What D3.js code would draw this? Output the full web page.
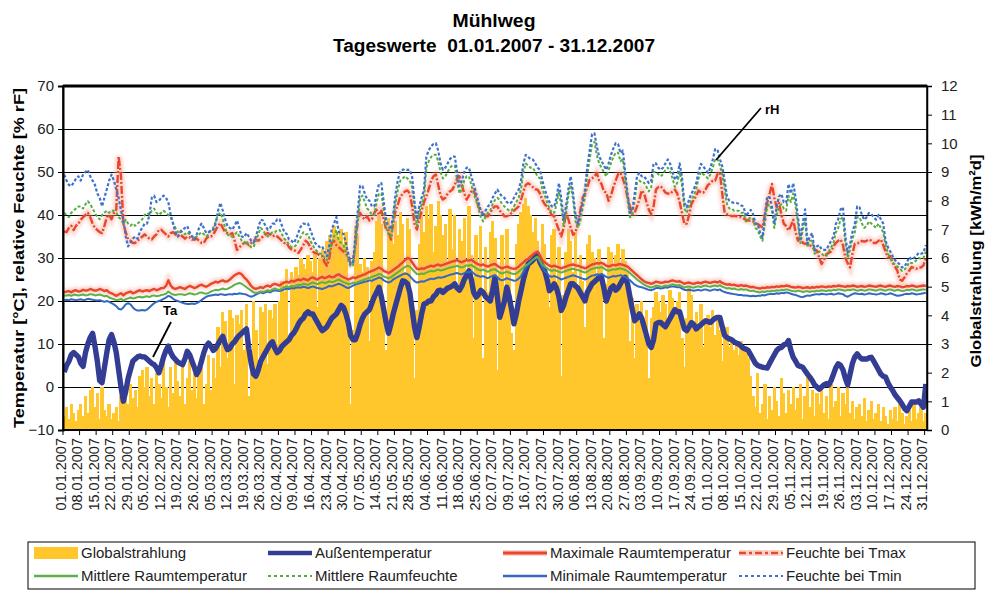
<!DOCTYPE html>
<html><head><meta charset="utf-8">
<script src="https://cdn.jsdelivr.net/npm/d3@7/dist/d3.min.js"></script>
<style>
html,body{margin:0;padding:0;background:#fff;}
svg{display:block;font-family:"Liberation Sans",Arial,sans-serif;}
</style></head>
<body><svg id="chart" width="990" height="591"></svg>
<script>
// ---------------- DATA ----------------
const tickLabels = ["01.01.2007","08.01.2007","15.01.2007","22.01.2007","29.01.2007","05.02.2007","12.02.2007","19.02.2007","26.02.2007","05.03.2007","12.03.2007","19.03.2007","26.03.2007","02.04.2007","09.04.2007","16.04.2007","23.04.2007","30.04.2007","07.05.2007","14.05.2007","21.05.2007","28.05.2007","04.06.2007","11.06.2007","18.06.2007","25.06.2007","02.07.2007","09.07.2007","16.07.2007","23.07.2007","30.07.2007","06.08.2007","13.08.2007","20.08.2007","27.08.2007","03.09.2007","10.09.2007","17.09.2007","24.09.2007","01.10.2007","08.10.2007","15.10.2007","22.10.2007","29.10.2007","05.11.2007","12.11.2007","19.11.2007","26.11.2007","03.12.2007","10.12.2007","17.12.2007","24.12.2007","31.12.2007"];
const leftTicks = [-10,0,10,20,30,40,50,60,70];
const rightTicks = [0,1,2,3,4,5,6,7,8,9,10,11,12];

// Globalstrahlung [kWh/m²d], daily
const globalstrahlung = [
0.5,0.8,0.4,0.9,0.6,0.3,0.7,
0.9,0.5,1.2,0.6,1.4,1.5,0.8,
1.3,0.4,1.5,0.7,0.5,0.9,0.4,
0.6,0.8,0.3,1.2,1.5,1.3,0.9,
1.6,1.1,1.4,0.8,1.9,2.1,1.5,
2.2,1.2,1.8,0.9,2.0,1.6,1.1,
2.4,1.5,0.8,2.2,1.3,2.5,1.7,
1.2,2.3,0.9,1.8,2.4,1.4,2.0,
1.1,1.9,2.2,0.9,1.6,2.6,1.4,
2.5,1.8,3.6,2.2,4.1,3.8,2.5,
4.2,3.9,1.6,4.0,3.7,4.2,2.8,
4.4,1.2,2.5,4.5,3.5,1.8,4.3,
4.1,4.4,2.3,4.2,3.9,4.4,3.0,
4.5,5.2,4.8,5.6,3.2,5.5,5.3,
5.7,5.4,6.0,5.8,5.6,6.1,5.9,
5.5,6.2,4.3,6.0,6.3,5.9,6.6,
6.8,6.5,7.1,6.9,6.7,7.0,6.4,
6.9,5.2,0.9,3.5,7.1,6.8,5.8,
5.5,6.0,5.7,3.1,5.9,6.2,7.3,
7.5,7.2,4.5,2.8,7.4,7.1,6.5,
7.3,6.8,7.6,7.2,5.5,7.4,7.0,
3.8,1.8,4.2,6.5,7.6,6.9,7.8,
7.4,7.9,6.2,7.1,8.0,7.5,6.8,
7.2,5.9,7.7,6.3,7.5,4.9,7.0,
6.6,7.4,5.3,7.8,6.1,3.2,6.8,
5.7,7.1,2.5,6.4,4.8,6.9,7.3,
6.7,2.1,5.5,6.8,4.2,7.0,5.6,
3.4,2.8,6.5,7.2,7.6,7.9,8.1,
7.8,7.5,6.9,7.4,6.6,5.8,7.2,
6.5,5.1,4.3,6.8,7.0,5.2,6.4,
1.9,4.7,6.2,7.0,6.6,5.5,6.9,
4.8,6.1,5.2,3.6,6.5,6.8,6.2,
6.0,5.4,6.3,5.8,3.2,5.1,6.4,
6.2,5.6,6.1,6.5,5.8,6.3,5.9,
5.5,3.1,4.6,2.5,4.4,3.8,4.5,
3.3,4.2,1.8,3.9,4.3,4.8,4.5,
4.1,4.7,4.4,3.6,4.9,4.6,4.2,
4.5,4.8,3.2,2.2,3.9,5.0,4.7,
3.8,4.1,3.5,4.4,2.9,3.7,4.0,
3.6,4.2,3.3,3.9,3.5,2.4,3.2,
3.6,2.9,3.1,2.8,3.0,2.6,3.1,
2.8,2.9,2.5,1.9,1.2,0.8,2.0,
0.6,0.9,1.6,0.4,1.2,0.7,1.5,
1.0,0.5,1.8,1.3,0.6,1.4,0.9,
1.5,0.7,1.1,1.6,0.4,1.2,2.0,
0.8,1.4,0.5,1.3,0.9,1.5,0.6,
1.2,0.4,1.6,0.8,1.0,1.5,0.5,
1.3,0.9,1.7,0.6,1.0,0.4,0.8,
0.9,0.5,1.1,0.3,0.7,1.0,0.4,
0.6,0.9,0.3,0.8,0.5,0.2,0.7,
0.4,0.8,0.3,0.9,0.6,0.2,0.5,
0.7,0.3,0.9,0.4,0.6,0.8,0.3,
0.6];

// Außentemperatur [°C]
const aussentemperatur = [
3.5,5,6,7.5,8,7.5,7,
5.5,4.8,8,10,11.5,12.5,9.5,
6,1.5,1,4.5,8,11,12.2,
10.5,8,4,0,-3.3,-1,2,
4,6,6.5,7,7.2,7,7,
6.5,6,5.5,5.2,4.5,3.3,5,
7,8.5,9.5,8,7,6.4,5.8,
5.5,5.2,6.5,8.3,7.5,6,4.5,
2.9,4,6,8,9.5,10.2,9.5,
8.5,9,10,11,11.8,10,8.7,
9,10,10.5,11.4,12,12.5,13,
13.5,9,5.5,3,2.5,4,6,
7,8,9,10,10.5,9,8,
8.5,9.5,10,10.5,11,12,12.6,
13.5,14.7,15.5,16,17,17.5,17,
17,16,15,14,13.1,13.5,14,
15,16,16.5,17,18,19,18.5,
17,15,12,11,11,12.5,14.5,
16,17,17.5,18,19.5,21,22,
23.2,21,18,15,12.5,14.5,17,
19,21,23,24.7,24.5,24,22,
18,14,11.5,14,17,19.3,19.5,
20,20,21,21.5,22.4,22.5,22,
22.5,23,23.2,23.5,24,23,22.5,
23.5,25,26,27,25,22,20.9,
21.5,22.5,22,21,20.5,20,22.5,
25.5,21,16.2,18,20,23.2,21,
18,14.7,17,20,22.4,25,27,
28.6,29,29.5,30.2,30.9,29,28,
27,25,22.4,23,24,23,21,
17.8,19,21,22.5,24,24,23.5,
23,22,21,20,22,23,24,
24.5,25,25.5,25.5,23,20,21.5,
23,23.5,22.5,23,24,25,25.5,
24,21,18,15.4,16,17,16,
14,12,10,9.2,11,14.7,15,
15,14.5,14,15,16,17,18,
17.5,17.5,15.5,13.5,13.1,14,15,
14.5,13.5,14,14.5,15,15.4,15.2,
15,15.5,16,16.2,16.2,14,12,
11.5,11.2,11,10.5,10.2,10,9.5,
9,8.8,8.5,7.5,6.5,5.5,5,
4.8,4.6,4.5,4.4,5.5,6.5,7.5,
8.5,9,9.2,9.8,10,10.8,8.5,
6.9,6,5,4.8,4.6,3.8,3,
2.3,1.5,0.5,0,-0.5,0,0.5,
0.8,0.5,1.5,3,4.5,5.4,5,
4,2,0.5,3,5.5,7,7.7,
7,6.5,6.5,6.5,6.8,6.9,6,
5,4,3,2.5,2.3,1,0,
-0.8,-1.8,-2.5,-3.2,-4,-5,-5.5,
-4.5,-3.5,-3.5,-3.5,-3.2,-4,-4.7,
0.7];

// Maximale Raumtemperatur [°C]
const maxRaumtemp = [
22,22.2,22.3,22,22.4,22.5,22.2,
22.3,22.6,22.4,22.5,22.8,22.6,22.4,
22.5,22.8,22.6,22.3,22.5,22,21.8,
21.5,21.2,21.5,21.8,21.3,21.8,22,
22.2,21.8,22,22.3,22.5,22.2,22.4,
22.5,22.3,22.6,22.8,22.5,22.7,23,
23,23.5,24.8,23.6,23,22.8,23,
23.2,23,22.8,23.2,23.5,23.3,23,
23.2,23.6,23.8,23.5,23.3,23.6,24,
24.2,24.5,24.3,24.6,24.8,24.5,24.6,
25,25.5,26,26.3,26.5,26.2,25.5,
25,24.3,23.5,23,22.8,23,23.2,
23,23.4,23.6,23.3,23.8,24,23.8,
23.6,24,24.3,24.5,24.3,24.7,24.5,
24.8,25,24.8,25.2,25,24.8,25.3,
25.5,25.2,25,25.4,25.6,25.3,25.5,
25.8,25.5,25.6,26,26.2,25.8,25.5,
25.3,25,25.2,25.5,25.3,25.6,25.8,
26,26.2,26.5,26.8,27,27.2,27.5,
27.8,27.5,27,26.8,26.5,26.8,27.2,
27.6,28,28.5,29,29.5,30,29.8,
29,28.2,27.5,27.4,27.6,27.5,27.8,
28,28.2,28,28.3,28.5,28.2,28.4,
28.6,28.8,29,29.2,29.3,29.5,29.2,
29,29.3,29.5,29.4,29.6,29.2,28.8,
28.5,28.3,28.5,28.2,28,28.3,28.5,
28.6,28.2,27.8,27.6,27.8,28,27.8,
27.6,27.5,27.6,28,28.5,29,29.5,
29.8,30.3,30.8,31.2,31.5,30.5,29.5,
29,28.6,28.2,28,28.2,28,27.8,
27.6,27.8,28,28.2,28.4,28.5,28.3,
28.2,28,27.8,27.6,27.8,28.2,28.5,
28.6,28.8,28.7,28.9,28.6,28.2,28,
28.2,28.4,28.3,28.5,28.6,28.4,28.2,
28,27.5,27,26.5,26,25.5,25,
24.6,24.3,24.2,24,24.2,24.5,24.4,
24.2,24.3,24.5,24.4,24.6,24.8,24.6,
24.5,24.6,24.3,24,24.2,24.3,24.1,
24,24.2,24.3,24.1,24.4,24.5,24.3,
24.2,24.4,24.5,24.3,24.6,24.2,24,
23.8,23.9,23.7,23.8,23.6,23.5,23.7,
23.5,23.6,23.4,23.2,23.3,23.1,23,
22.9,23.1,23,23.2,23.1,23.3,23.2,
23.4,23.3,23.5,23.4,23.6,23.5,23.3,
23.2,23.1,23.3,23.2,23,23.1,23.2,
23,23.2,23.1,23.3,23.2,23.4,23.3,
23.2,23.4,23.3,23.5,23.4,23.6,23.5,
23.4,23.3,23.5,23.4,23.6,23.5,23.3,
23.4,23.5,23.3,23.4,23.6,23.5,23.4,
23.3,23.5,23.6,23.4,23.3,23.5,23.6,
23.4,23.3,23.5,23.4,23.2,23.3,23.5,
23.4,23.6,23.5,23.3,23.4,23.5,23.6,
23.5];

// Mittlere Raumtemperatur [°C]
const mittlereRaumtemp = [
21.2,21.3,21.4,21.2,21.5,21.4,21.3,
21.4,21.5,21.3,21.4,21.6,21.5,21.3,
21.4,21.5,21.3,21.1,21.2,20.8,20.6,
20.4,20.2,20.3,20.5,20.1,20.4,20.6,
20.8,20.6,20.7,20.9,21,20.8,21,
21.1,20.9,21.2,21.3,21.1,21.2,21.4,
21.5,21.7,22.2,21.8,21.5,21.4,21.5,
21.6,21.5,21.4,21.6,21.8,21.7,21.5,
21.6,21.9,22,21.8,21.7,21.9,22.2,
22.4,22.6,22.5,22.7,22.9,22.7,22.8,
23.1,23.4,23.8,24,24.2,24,23.6,
23.2,22.8,22.4,22,21.9,22,22.2,
22.1,22.3,22.5,22.3,22.7,22.9,22.7,
22.6,22.9,23.2,23.4,23.2,23.5,23.4,
23.6,23.8,23.7,24,23.9,23.7,24.1,
24.3,24.1,23.9,24.2,24.4,24.2,24.3,
24.6,24.4,24.5,24.8,25,24.7,24.4,
24.2,23.9,24,24.3,24.1,24.4,24.6,
24.8,25,25.2,25.4,25.6,25.8,26,
26.3,26.1,25.7,25.5,25.3,25.5,25.9,
26.3,26.7,27.1,27.5,27.9,28.2,28,
27.4,26.8,26.3,26.2,26.4,26.3,26.6,
26.8,27,26.9,27.1,27.3,27.1,27.2,
27.4,27.6,27.8,27.9,28,28.2,27.9,
27.8,28,28.3,28.2,28.4,28,27.6,
27.3,27.1,27.3,27,26.8,27.1,27.3,
27.4,27,26.6,26.4,26.6,26.8,26.6,
26.4,26.3,26.4,26.8,27.3,27.8,28.3,
28.6,29.1,29.6,30,30.3,29.4,28.5,
28,27.6,27.2,27,27.2,27,26.8,
26.6,26.8,27,27.2,27.4,27.5,27.3,
27.2,27,26.8,26.6,26.8,27.2,27.5,
27.6,27.8,27.7,27.9,27.6,27.2,27,
27.2,27.4,27.3,27.5,27.6,27.4,27.2,
27,26.5,26,25.5,25,24.6,24.2,
23.8,23.5,23.3,23.1,23.3,23.6,23.5,
23.3,23.4,23.6,23.5,23.7,23.9,23.7,
23.6,23.7,23.4,23.1,23.3,23.4,23.2,
23.1,23.3,23.4,23.2,23.5,23.6,23.4,
23.3,23.5,23.6,23.4,23.7,23.3,23.1,
22.9,23,22.8,22.9,22.7,22.6,22.8,
22.6,22.7,22.5,22.3,22.4,22.2,22.1,
22,22.2,22.1,22.3,22.2,22.4,22.3,
22.5,22.4,22.6,22.5,22.7,22.6,22.4,
22.3,22.2,22.4,22.3,22.1,22.2,22.3,
22.1,22.3,22.2,22.4,22.3,22.5,22.4,
22.3,22.5,22.4,22.6,22.5,22.7,22.6,
22.5,22.4,22.6,22.5,22.7,22.6,22.4,
22.5,22.6,22.4,22.5,22.7,22.6,22.5,
22.4,22.6,22.7,22.5,22.4,22.6,22.7,
22.5,22.4,22.6,22.5,22.3,22.4,22.6,
22.5,22.7,22.6,22.4,22.5,22.6,22.7,
22.6];

// Minimale Raumtemperatur [°C]
const minRaumtemp = [
20.2,20.3,20.2,20.4,20.3,20.2,20.3,
20.4,20.2,20.3,20.5,20.4,20.3,20.2,
20.1,20.2,20,19.8,20,19.8,19.5,
19.2,18.8,18.2,18,18.5,19.2,19.5,
19.2,18.5,18,17.8,17.8,17.9,17.8,
18,18.5,19,19.5,19.8,20,20.2,
20.5,20.8,21.2,21,20.5,20.2,20,
19.8,19.6,19.4,19.3,19.3,19.4,19.3,
19.5,19.8,20.2,20.6,21,21.2,21.3,
21.4,21.5,21.4,21.6,21.5,21.4,21.5,
21.6,21.5,21.7,21.6,21.8,21.7,21.6,
21.5,21.2,21,21.2,21.5,21.8,22,
21.8,22,22.2,22,22.3,22.5,22.4,
22.3,22.5,22.7,22.9,22.8,23,22.9,
23.1,23.2,23.1,23.3,23.2,23,23.2,
23.4,23.2,23,22.9,22.8,23,23.2,
23.5,23.4,23.6,23.8,24,23.8,23.5,
23.2,23,23.3,23.6,23.8,24,24.2,
24.3,24.5,24.6,24.8,24.7,25,25.2,
25.5,25.3,24.8,24.5,24.3,24.5,25,
25.3,25.6,25.9,26.2,26.4,26.3,25.8,
25.2,24.6,24.3,24.4,24.6,24.5,24.8,
25,25.2,25.1,25.3,25.5,25.4,25.5,
25.7,25.9,26.1,26.2,26.4,26.5,26.3,
26.2,26.5,26.8,26.7,26.9,26.4,26,
25.8,25.6,25.8,25.5,25.3,25.6,25.8,
26,25.5,25,24.8,25,25.3,25.1,
24.9,24.7,24.8,25.2,25.8,26.8,27.8,
28.4,29,29.5,29.9,30.1,29,27.8,
27,26.5,25.8,25.6,25.8,25.6,25.3,
25,25.2,25.4,25.6,25.8,26,25.8,
25.6,25.4,25.2,25,25.2,25.6,25.9,
26,26.2,26.1,26.3,26,25.6,25.4,
25.6,25.8,25.7,25.9,26,25.8,25.6,
25.3,24.8,24.3,23.8,23.5,23.3,23.2,
23,22.8,22.6,22.5,22.7,23,23,
22.9,23,23.2,23.1,23.3,23.4,23.3,
23.2,23.2,22.9,22.6,22.5,22.6,22.5,
22.4,22.5,22.6,22.4,22.6,22.7,22.5,
22.4,22.6,22.7,22.5,22.7,22.3,22.1,
21.9,21.8,21.7,21.6,21.5,21.4,21.4,
21.3,21.3,21.2,21.1,21.2,21.1,21.2,
21.2,21.4,21.3,21.5,21.6,21.7,21.6,
21.8,21.7,21.9,21.8,22,21.9,21.7,
21.5,21.4,21.2,21,20.9,21.1,21.3,
21.2,21.4,21.5,21.6,21.5,21.7,21.6,
21.5,21.6,21.7,21.5,21.6,21.8,21.7,
21.6,21.2,21,21.3,21.6,21.8,21.7,
21.6,21.7,21.5,21.6,21.8,21.7,21.6,
21.5,21.6,21.8,21.7,21.5,21.6,21.8,
21.6,21.4,21.2,21.3,21.4,21.6,21.7,
21.6,21.8,21.7,21.5,21.6,21.7,21.8,
21.9];

// Feuchte bei Tmax [% rF]
const feuchteTmax = [
36.2,36,37,37.5,36.5,37.5,38,
38.9,39.5,40,40.5,39.5,38,37,
36.5,36,35.8,37.5,39.5,40,39,
40.5,41.2,53.6,49,38,36,34.3,
34,33.5,33.5,34,34.5,35,35.5,
35,34.5,34.3,35,35.5,36.5,36.6,
36,35.5,35,35.8,36,35.5,35,
35.5,35,34.5,35,34.8,34.3,34.3,
34.5,34,33.5,33.5,34.5,35,35,
35.5,36.5,37.5,38.1,37,36,35.8,
35.5,35.8,34,31.9,32.5,33,33.5,
33.5,33,33.5,34,34.3,34,34.5,
35,35.5,35.8,35.5,35,35.3,35,
34.5,34,33.5,33.5,32.5,32,31.9,
31.5,31.2,32,33,34,33.5,32.5,
31.5,31.2,31,30.5,30.4,29,28.2,
30,33.5,34,33,32.5,32,31.5,
31,30.4,28.6,29,33,38.7,40.5,
39.5,39,39.7,38.7,39,40.5,41.2,
40,41,39,36.6,36.4,34.3,38,
41,42.5,44.3,44.9,45.5,45.7,45,
42,38,36.6,39,41,43,44.3,
46,48,49,49.4,47,44.5,43.6,
44,45,45.5,45.9,47,48.5,49,
47,45,43.6,44.5,45.5,45.9,44,
42,40.8,40.5,39.7,39.7,40.5,41.5,
42,42,41,40.5,39.7,39.7,40,
40.5,41,41.5,42,43.5,45.5,47,
47.4,47,46.5,46,45.9,45,43.5,
42.5,42,41,40,39.7,38,36.5,
35,37,40.5,39,37,35.4,36,
38,41,44,44.9,46.5,48.2,48.5,
49,49.8,48,47.2,45.5,45.2,43.3,
44.5,46.5,48,49.5,49.8,48.5,46.7,
44,42,40.2,40.5,42,43.6,45.7,
45,43,41.2,40.2,42,45.9,46.5,
46.7,46,45.2,45,44.9,45.5,45.9,
45,43,40.5,37.9,38,40,42.6,
43.5,44.5,45.7,45.2,45.2,46,47,
47.4,48,48,49.5,49.8,45,40.5,
40.2,40,39.7,39.8,39.7,39.5,39.5,
39.2,38.9,38.7,38.7,38.5,38,37.9,
37.5,37.1,40,42.8,44.9,47.2,44,
41.8,42.8,40,38,37.4,36.4,37.5,
38.9,36,34,35,33.5,33.3,33.5,
33,32.5,32,31.7,30,28.6,29.6,
30.9,31.2,31.5,32.7,33.5,34,34.3,
33,30,28.8,27.8,31,33.3,33.5,
33.5,34,33.8,34,34.3,34,33.5,
33.5,34,34.3,33,31.5,30.2,30.4,
28.8,28,27,25,24.7,25.5,26.4,
27.1,27.9,27.7,27.5,27.8,27.8,28.3,
30];

// Mittlere Raumfeuchte [% rF]
const mittlereRaumfeuchte = [
40.5,40,39.5,40.5,41,41.5,42,
42,41.5,42.5,43.2,42.5,41.5,40.5,
39.5,39,40,40.5,41,40.5,41,
41,40.5,39.5,39,38,38.9,38,
37.5,38,37.5,38,38.5,39,40,
40.5,40,41,41.5,40.5,40,40.5,
41,40.5,40,39.5,38,37,36,
36.5,36,35.5,36,35.5,35,34.5,
35,35.5,36,35.5,35,35.5,36.5,
37,38.5,40,40.5,39,37,35.5,
35,35,35.5,36,35,34,33.5,
34,33,32.5,32.5,34,35.5,37,
36.5,35.5,35,35.5,36,36,36.5,
36.5,35.5,34.5,34,33,32.5,32.5,
33,34,35,36,35.5,35.5,34,
33,32,31.5,31,31,30,29.5,
31,33.5,35,36.5,34,33.5,33,
31.5,29.5,28,28.3,33,38,44,
44.5,43,41.5,41,40,40,43,
45,45,41,37,35.5,35,38.5,
43,46,48,48.5,49,48.5,48,
46.5,41.5,37.5,40.5,42.5,44,51,
52.5,53.5,54,54,52.5,50,48.5,
49,50,51,51.5,51.5,48,45,
46,48,49,49,47,45,43.5,
41.5,39.5,38.5,39.5,40.5,41,42.5,
43.5,44,43.5,42.5,42,41.5,41,
41,42,43,44,46,50,52,
51.5,51,51,50,49,48.5,46,
44.5,43,41.5,40.5,40.5,42.5,45.5,
42,37.5,40.5,44.5,47,43.5,38.5,
37,38.5,41.5,44,49.5,53,56.5,
57,54,52,51,50,49,50.5,
52,53.5,54.5,54.5,52.5,53,48.5,
43.5,39.5,40,43.5,47.5,48,47.5,
47.5,46.5,45.5,46.5,50,50,49.5,
49,49.5,50.5,51,50,48.5,46.5,
47.5,50,47,41.5,40.5,42,43.5,
44.5,46,48.5,50,49.5,49,48.5,
49.5,51,53,53,51.5,49.5,46,
42.5,41.5,41.5,41,41,41,40.5,
40.5,38.5,39,39.5,39,37,36.5,
35,34,38,42,42.5,41,37,
40,42,42.5,41.5,41,44.5,43,
45,42,38,33.5,36.5,39,32.5,
34,34,31,31.5,31.5,31,30.5,
30.5,31.5,32.5,33.5,36,37,39,
39.5,33.5,30,32,34.5,36,39.5,
39.5,38,37,37.5,38.5,38,37.5,
37,38,37,36,33,31,30,
29,28.5,28,27.5,27,27.3,28,
29,28.8,29,29.5,30,29.8,30,
31.5];

// Feuchte bei Tmin [% rF]
const feuchteTmin = [
49.4,48,47,46.7,47.5,48.5,49,
48,49.5,50,50.5,49,48,47,
45,44,42,44,46,48,49.4,
48,46,44,41,38.9,35,32.7,
33.5,34.5,35,34.5,36.2,37,38,
38,40,44,44.5,43,43.3,44,
44.5,44,43,40,38,36,35,
36,36.5,37,37.4,36,35,34.3,
35.5,37,38,37,35.8,36,36.5,
36.6,38,41,42.8,41,39,37.4,
37,36.6,37.5,38.7,37,35,34.8,
35.8,35,34,33.5,35,37,38.9,
38.7,37.5,36.6,37,38,38,39,
39,37.5,36,35.6,34.3,34,33.5,
34.5,36,37.4,38,37.9,38,36.5,
35,33.5,33,32.5,32.7,31.5,30.4,
33,36.6,38,39.5,36,35.8,35.6,
33.5,31,28.6,28.8,35,40.5,46.8,
46.7,45,43.6,43.3,42,42,45,
47.2,47.4,43,38.7,37.4,36.6,40,
45,48.2,50.3,50.5,50.7,50.5,50.5,
48.8,43,38.9,42,44,45.9,53.6,
55,56,56.5,56.7,55,52,50.5,
51,52,53,53.6,53.6,50,46.7,
48,50,51,51,49,47,45.2,
43,41,39.7,41,42,42.6,44,
45,45.9,45,44.3,44,43,42.6,
43,44,45,45.9,48,52,54,
53.5,53,52.9,52,51,50.5,48,
46,44.3,43,42,41.9,44,47.4,
44,38.9,42,46,49,45,40,
38,40,43,45.9,51.3,55,58.8,
59,56,53.6,52.6,51.5,50.5,52,
54,55.5,56.7,56.5,54.4,55,50,
45,40.5,41,45,49,49.8,49,
49,48.2,47.4,48,52,52,51,
50.5,51,52,52.9,51.9,50,48.2,
49,52,48.8,42.8,41.8,43.6,45,
46,47.4,50,51.9,51.3,50.5,49.8,
51,52.9,55.3,55.2,53,51.3,48,
44.3,43.3,43,42.8,42.8,42.6,42.2,
42,39.7,40.5,41.2,40.2,38,37.9,
35.8,34.8,40,44.3,44.1,42,38,
42,44.3,44.9,43,42.8,47.2,45,
47.4,44,39.5,34.3,38,41.3,33.3,
35,35.8,31.7,32.7,33,32,31.9,
31.9,33,34,35,37.9,39,41.3,
41.8,35,31.2,33.3,36,37.9,42,
41.8,40,38.9,39.5,40.5,40.2,39.5,
38.9,40,39,38,34,32.5,31.5,
30.4,29.5,29,28.5,27.8,28,29,
30.2,29.6,30,30.5,31.2,31,31.2,
33];

// ---------------- CHART ----------------
const svg = d3.select("#chart");
const X0 = 63, X1 = 927, Y0 = 86, Y1 = 430;
const days = d3.range(aussentemperatur.length);
const x = d3.scaleBand().domain(days).range([X0, X1]).paddingInner(0).paddingOuter(0);
const cx = i => x(i) + x.bandwidth() / 2;
const yL = d3.scaleLinear().domain([-10, 70]).range([Y1, Y0]);
const yR = d3.scaleLinear().domain([0, 12]).range([Y1, Y0]);

const defs = svg.append("defs");
defs.append("filter").attr("id","halo").attr("x","-5%").attr("y","-20%").attr("width","110%").attr("height","140%")
  .append("feGaussianBlur").attr("stdDeviation", 1.6);
defs.append("clipPath").attr("id","plotclip").append("rect")
  .attr("x", X0).attr("y", Y0).attr("width", X1 - X0).attr("height", Y1 - Y0);

// gridlines
svg.append("g").selectAll("line").data([0,10,20,30,40,50,60]).join("line")
  .attr("x1", X0).attr("x2", X1).attr("y1", d => yL(d)).attr("y2", d => yL(d))
  .attr("stroke", "#000").attr("stroke-width", 1).attr("shape-rendering","crispEdges");

// bars (Globalstrahlung) – pixel-snapped so neighbouring bars touch
svg.append("g").attr("shape-rendering","crispEdges").selectAll("rect").data(globalstrahlung).join("rect")
  .attr("x", (d, i) => Math.floor(x(i)))
  .attr("width", (d, i) => Math.max(1, Math.ceil(x(i) + x.bandwidth()) - Math.floor(x(i))))
  .attr("y", d => Math.round(yR(d))).attr("height", d => Y1 - Math.round(yR(d)))
  .attr("fill", "#ffc72b");

const plot = svg.append("g").attr("clip-path","url(#plotclip)");
const lineGen = arr => d3.line().x((d, i) => cx(i)).y(d => yL(d))(arr);

// halos for red lines
[maxRaumtemp, feuchteTmax].forEach(arr => {
  plot.append("path").attr("d", lineGen(arr)).attr("fill","none")
    .attr("stroke","#f6a89a").attr("stroke-width",7).attr("opacity",0.45)
    .attr("filter","url(#halo)");
});

function drawLine(arr, color, width, dash) {
  plot.append("path").attr("d", lineGen(arr)).attr("fill", "none")
    .attr("stroke", color).attr("stroke-width", width)
    .attr("stroke-linejoin","round")
    .attr("stroke-dasharray", dash || null);
}
// Außentemperatur (thick navy)
drawLine(aussentemperatur, "#333d94", 5.4);
drawLine(minRaumtemp, "#3568c2", 2);
drawLine(mittlereRaumtemp, "#5cb247", 2);
drawLine(maxRaumtemp, "#e9472c", 2.4);
drawLine(feuchteTmax, "#e9472c", 2.4, "8,2,2,2");
drawLine(mittlereRaumfeuchte, "#55ad3e", 2, "3,2");
drawLine(feuchteTmin, "#3f72cc", 2.2, "3,2");

// frame
svg.append("rect").attr("x", X0).attr("y", Y0).attr("width", X1 - X0).attr("height", Y1 - Y0)
  .attr("fill","none").attr("stroke","#000").attr("stroke-width",1.5);
svg.append("line").attr("x1",X0).attr("x2",X1).attr("y1",Y0).attr("y2",Y0).attr("stroke","#000").attr("stroke-width",3);

// left axis
const axL = svg.append("g").attr("transform", `translate(${X0},0)`)
  .call(d3.axisLeft(yL).tickValues(leftTicks).tickSize(5).tickPadding(4).tickFormat(d3.format("d")));
axL.select(".domain").attr("stroke","#000").attr("stroke-width",2);
axL.selectAll("text").attr("font-size", 15).attr("fill","#222").attr("font-family",'"Liberation Sans",Arial,sans-serif');
// right axis
const axR = svg.append("g").attr("transform", `translate(${X1},0)`)
  .call(d3.axisRight(yR).tickValues(rightTicks).tickSize(5).tickPadding(9).tickFormat(d3.format("d")));
axR.select(".domain").attr("stroke","#000").attr("stroke-width",1.5);
axR.selectAll("text").attr("font-size", 15).attr("fill","#222").attr("font-family",'"Liberation Sans",Arial,sans-serif');

// bottom axis
const tickIdx = tickLabels.map((t, k) => Math.min(k * 7, days.length - 1));
const axB = svg.append("g").attr("transform", `translate(0,${Y1})`);
axB.append("line").attr("x1", X0).attr("x2", X1).attr("stroke","#000").attr("stroke-width",2);
axB.selectAll("line.tk").data(tickIdx).join("line").attr("class","tk")
  .attr("x1", i => x(i)).attr("x2", i => x(i)).attr("y1", 0).attr("y2", 5).attr("stroke","#000");
axB.selectAll("text").data(tickLabels).join("text")
  .attr("transform", (t, k) => `translate(${x(tickIdx[k]) + 2.5},${8}) rotate(-90)`)
  .attr("text-anchor","end").attr("font-size", 14.5).attr("fill","#222").text(t => t);

// axis titles
svg.append("text").attr("transform","translate(24,258) rotate(-90)")
  .attr("text-anchor","middle").attr("font-weight","bold").attr("font-size",15.5)
  .attr("textLength",340).attr("lengthAdjust","spacingAndGlyphs")
  .text("Temperatur [°C], relative Feuchte [% rF]");
svg.append("text").attr("transform","translate(981,261) rotate(-90)")
  .attr("text-anchor","middle").attr("font-weight","bold").attr("font-size",15.5)
  .attr("textLength",213).attr("lengthAdjust","spacingAndGlyphs")
  .text("Globalstrahlung [kWh/m²d]");

// titles
svg.append("text").attr("x",494).attr("y",27).attr("text-anchor","middle")
  .attr("font-weight","bold").attr("font-size",18).attr("textLength",83).attr("lengthAdjust","spacingAndGlyphs")
  .text("Mühlweg");
svg.append("text").attr("x",494).attr("y",52).attr("text-anchor","middle")
  .attr("font-weight","bold").attr("font-size",18).attr("textLength",322).attr("lengthAdjust","spacingAndGlyphs")
  .attr("xml:space","preserve").text("Tageswerte  01.01.2007 - 31.12.2007");

// annotations
svg.append("line").attr("x1",171).attr("y1",322).attr("x2",153).attr("y2",357).attr("stroke","#000").attr("stroke-width",1.8);
svg.append("text").attr("x",163).attr("y",315).attr("font-weight","bold").attr("font-size",13).text("Ta");
svg.append("line").attr("x1",761).attr("y1",108).attr("x2",716).attr("y2",160).attr("stroke","#000").attr("stroke-width",1.8);
svg.append("text").attr("x",765).attr("y",114).attr("font-weight","bold").attr("font-size",13).text("rH");

// legend
const lg = svg.append("g");
lg.append("rect").attr("x",28).attr("y",542).attr("width",947).attr("height",47)
  .attr("fill","#fff").attr("stroke","#000").attr("stroke-width",1);
const legendItems = [
  {label:"Globalstrahlung", type:"rect", color:"#ffc72b", col:0, row:0},
  {label:"Außentemperatur", type:"line", color:"#333d94", w:4.6, col:1, row:0},
  {label:"Maximale Raumtemperatur", type:"line", color:"#e9472c", w:3, halo:true, col:2, row:0},
  {label:"Feuchte bei Tmax", type:"line", color:"#e9472c", w:2.6, dash:"7,3,3,3", halo:true, col:3, row:0},
  {label:"Mittlere Raumtemperatur", type:"line", color:"#5cb247", w:2.4, col:0, row:1},
  {label:"Mittlere Raumfeuchte", type:"line", color:"#55ad3e", w:2, dash:"3,3", col:1, row:1},
  {label:"Minimale Raumtemperatur", type:"line", color:"#3568c2", w:2.6, col:2, row:1},
  {label:"Feuchte bei Tmin", type:"line", color:"#3f72cc", w:2.2, dash:"3,3", col:3, row:1}
];
const colX = [34, 268, 503, 739];
const rowY = [553, 576];
legendItems.forEach(it => {
  const sx = colX[it.col], sy = rowY[it.row];
  if (it.type === "rect") {
    lg.append("rect").attr("x", sx).attr("y", sy - 6).attr("width", 44).attr("height", 12).attr("fill", it.color);
  } else {
    if (it.halo) lg.append("line").attr("x1", sx).attr("x2", sx + 44).attr("y1", sy).attr("y2", sy)
      .attr("stroke","#f6a89a").attr("stroke-width",6).attr("opacity",0.5);
    lg.append("line").attr("x1", sx).attr("x2", sx + 44).attr("y1", sy).attr("y2", sy)
      .attr("stroke", it.color).attr("stroke-width", it.w).attr("stroke-dasharray", it.dash || null);
  }
  lg.append("text").attr("x", sx + 47).attr("y", sy + 5).attr("font-size", 15).attr("fill","#222").text(it.label);
});
</script></body></html>
